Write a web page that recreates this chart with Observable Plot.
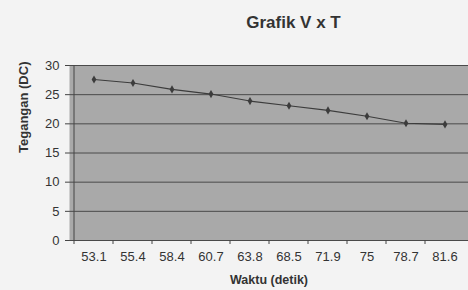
<!DOCTYPE html>
<html><head><meta charset="utf-8">
<script src="https://cdn.jsdelivr.net/npm/d3@7"></script>
<script src="https://cdn.jsdelivr.net/npm/@observablehq/plot@0.6"></script>
<style>
html,body{margin:0;padding:0;background:#f3f3f3;}
svg{display:block;}
</style>
</head><body>
<div id="chart"></div>
<script>
const waktu = ["53.1","55.4","58.4","60.7","63.8","68.5","71.9","75","78.7","81.6"];
const tegangan = [27.6, 27.0, 25.9, 25.1, 23.9, 23.1, 22.3, 21.3, 20.1, 19.9];
const yTicks = [0, 5, 10, 15, 20, 25, 30];
const title = "Grafik V x T";
const xLabel = "Waktu (detik)";
const yLabel = "Tegangan (DC)";

const data = waktu.map((w, i) => ({w, v: tegangan[i]}));
const font = "Arial, 'Liberation Sans', sans-serif";

const chart = Plot.plot({
  width: 468, height: 290,
  marginLeft: 69, marginRight: 0, marginTop: 65, marginBottom: 50,
  style: {background: "#f3f3f3", fontFamily: font, fontSize: "13px", color: "#333"},
  x: {type: "band", domain: waktu, padding: 0, label: null},
  y: {domain: [0, 30], label: null},
  marks: [
    Plot.frame({fill: "#a9a9a9", stroke: null}),
    Plot.ruleY(yTicks, {stroke: "#4a4a4a", strokeWidth: 1}),
    Plot.ruleX([0], {x: () => waktu[0], dx: -20, stroke: "#444"}),
    Plot.axisY({ticks: yTicks, tickSize: 4, tickPadding: 6, stroke: "#444", fill: "#333", fontSize: 13, label: null}),
    Plot.axisX({tickSize: 4, text: null, dx: -20, stroke: "#444"}),
    Plot.axisX({tickSize: 0, tickPadding: 11, fill: "#333", fontSize: 13, label: null}),
    Plot.line(data, {x: "w", y: "v", stroke: "#3c3c3c", strokeWidth: 1.1}),
    Plot.dot(data, {x: "w", y: "v", symbol: "diamond", r: 2.5, fill: "#3c3c3c", stroke: null}),
    Plot.text([title], {frameAnchor: "top", dy: -50, dx: 24.5, fontWeight: "bold", fontSize: 17, fill: "#333"}),
    Plot.text([xLabel], {frameAnchor: "bottom", dy: 43, fontWeight: "bold", fontSize: 12.5, fill: "#333"}),
    Plot.text([yLabel], {frameAnchor: "left", dx: -46, rotate: -90, fontWeight: "bold", fontSize: 13, fill: "#333"})
  ]
});
document.getElementById("chart").append(chart);
</script>
</body></html>
